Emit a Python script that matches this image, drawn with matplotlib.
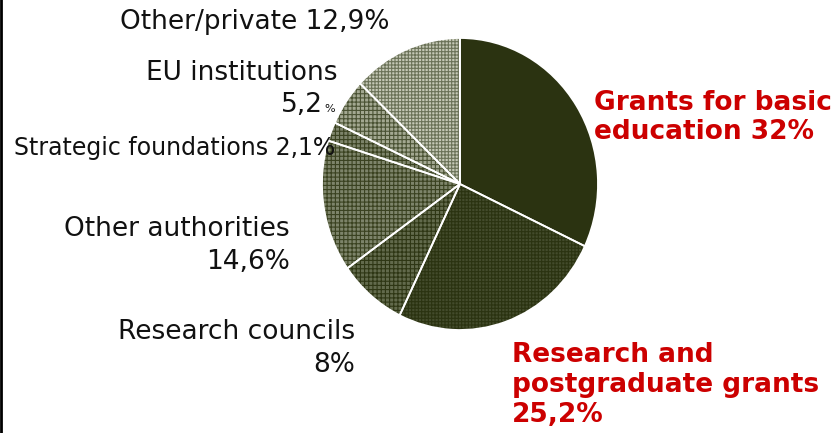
import matplotlib
matplotlib.use("Agg")
import matplotlib.pyplot as plt
from matplotlib.lines import Line2D

# slice data, clockwise from 12 o'clock
labels = ["Grants for basic education", "Research and postgraduate grants",
          "Research councils", "Other authorities", "Strategic foundations",
          "EU institutions", "Other/private"]
shares = [32, 25.2, 8, 14.6, 2.1, 5.2, 12.9]

face_colors = ["#2b3311", "#434b2c", "#626a4c", "#7d846a", "#7d846a", "#a3a891", "#c5c8b6"]
hatch_colors = ["#2b3311", "#2b3311", "#2e3614", "#3a4220", "#3a4220", "#4a5233", "#6b7258"]
hatches = [None, "+++++", "++++", "++++", "++++", "++++", "+++++"]

W, H = 835, 433
plt.rcParams["font.family"] = "DejaVu Sans"
plt.rcParams["hatch.linewidth"] = 0.8

fig = plt.figure(figsize=(W / 100, H / 100), dpi=100)

# pie sits in its own axes, slightly taller than wide like the original
cx, cy, rx, ry = 460, 184, 138, 146
ax = fig.add_axes([(cx - rx) / W, 1 - (cy + ry) / H, 2 * rx / W, 2 * ry / H])

wedges, _ = ax.pie(shares, startangle=90, counterclock=False, radius=1,
                   colors=face_colors, wedgeprops=dict(linewidth=0))
for w, hc, h in zip(wedges, hatch_colors, hatches):
    w.set_edgecolor(hc)
    if h:
        w.set_hatch(h)

# white separators on top
ax.pie(shares, startangle=90, counterclock=False, radius=1,
       wedgeprops=dict(facecolor="none", edgecolor="white", linewidth=1.3))
ax.set_aspect("auto")
ax.set_xlim(-1, 1)
ax.set_ylim(-1, 1)
ax.axis("off")


def px(x, y):
    return x / W, 1 - y / H


black = "#111111"
red = "#cc0000"
fs = 19

fig.text(*px(389, 22), "Other/private 12,9%", ha="right", va="center", fontsize=fs, color=black)
fig.text(*px(337, 73), "EU institutions", ha="right", va="center", fontsize=fs, color=black)
fig.text(*px(323, 112), "5,2", ha="right", va="baseline", fontsize=fs, color=black)
fig.text(*px(324, 112), "%", ha="left", va="baseline", fontsize=8, color=black)
fig.text(*px(335, 148), "Strategic foundations 2,1%", ha="right", va="center", fontsize=17, color=black)
fig.text(*px(290, 229), "Other authorities", ha="right", va="center", fontsize=fs, color=black)
fig.text(*px(290, 262), "14,6%", ha="right", va="center", fontsize=fs, color=black)
fig.text(*px(355, 332), "Research councils", ha="right", va="center", fontsize=fs, color=black)
fig.text(*px(355, 365), "8%", ha="right", va="center", fontsize=fs, color=black)

fig.text(*px(594, 118), "Grants for basic\neducation 32%", ha="left", va="center",
         fontsize=fs, fontweight="bold", color=red, linespacing=1.15)
fig.text(*px(512, 385), "Research and\npostgraduate grants\n25,2%", ha="left", va="center",
         fontsize=fs, fontweight="bold", color=red, linespacing=1.18)

# left frame line
fig.add_artist(Line2D([1.2 / W, 1.2 / W], [0, 1], color="black", linewidth=2))

fig.savefig("out.png", dpi=100)
